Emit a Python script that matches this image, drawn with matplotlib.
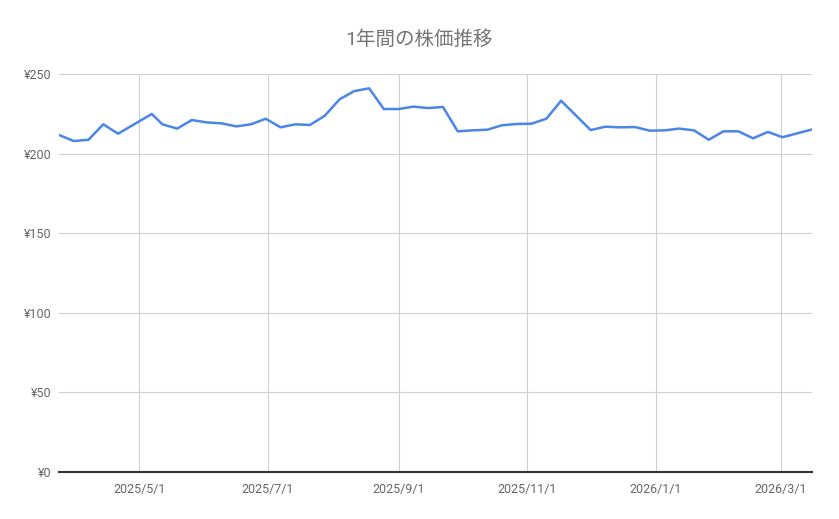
import pandas as pd
import matplotlib.pyplot as plt
import matplotlib.dates as mdates
from matplotlib.ticker import FuncFormatter

plt.rcParams['font.family'] = ['Roboto', 'Noto Sans CJK JP', 'DejaVu Sans']

dates = pd.to_datetime([
    '2025-03-24', '2025-03-31', '2025-04-07', '2025-04-14', '2025-04-21',
    '2025-05-07', '2025-05-12', '2025-05-19', '2025-05-26', '2025-06-02',
    '2025-06-09', '2025-06-16', '2025-06-23', '2025-06-30', '2025-07-07',
    '2025-07-14', '2025-07-21', '2025-07-28', '2025-08-04', '2025-08-11',
    '2025-08-18', '2025-08-25', '2025-09-01', '2025-09-08', '2025-09-15',
    '2025-09-22', '2025-09-29', '2025-10-06', '2025-10-13', '2025-10-20',
    '2025-10-27', '2025-11-03', '2025-11-10', '2025-11-17', '2025-12-01',
    '2025-12-08', '2025-12-15', '2025-12-22', '2025-12-29', '2026-01-05',
    '2026-01-12', '2026-01-19', '2026-01-26', '2026-02-02', '2026-02-09',
    '2026-02-16', '2026-02-23', '2026-03-02', '2026-03-16',
])
prices = [
    211.7, 207.9, 208.7, 218.4, 212.5,
    224.9, 218.4, 215.7, 221.1, 219.6,
    219.0, 217.1, 218.4, 221.9, 216.5,
    218.4, 218.0, 223.8, 234.1, 239.3,
    241.0, 228.0, 228.0, 229.5, 228.6,
    229.3, 214.0, 214.6, 215.0, 217.8,
    218.6, 218.8, 221.9, 233.2, 214.8,
    216.9, 216.5, 216.7, 214.4, 214.6,
    215.7, 214.6, 208.7, 214.0, 214.0,
    209.6, 213.6, 210.3, 215.2,
]
yticks = [0, 50, 100, 150, 200, 250]
xticks = pd.to_datetime(['2025-05-01', '2025-07-01', '2025-09-01',
                         '2025-11-01', '2026-01-01', '2026-03-01'])

fig = plt.figure(figsize=(8.39, 5.19), dpi=100)
ax = fig.add_axes([0.0703, 0.0906, 0.8977, 0.7668])

ax.plot(dates, prices, color='#4a86e8', linewidth=1.8, zorder=3)

ax.set_xlim(dates[0], dates[-1])
ax.set_ylim(0, 250)
ax.set_yticks(yticks)
ax.yaxis.set_major_formatter(FuncFormatter(lambda v, p: f'¥{v:.0f}'))
ax.set_xticks(xticks)
ax.xaxis.set_major_formatter(FuncFormatter(
    lambda v, p: '{0.year}/{0.month}/{0.day}'.format(mdates.num2date(v))))

ax.grid(True, color='#d0d0d0', linewidth=0.8)
ax.set_axisbelow(True)
for s in ['top', 'right', 'left']:
    ax.spines[s].set_visible(False)
ax.spines['bottom'].set_color('#333333')
ax.spines['bottom'].set_linewidth(1.5)
ax.spines['bottom'].set_zorder(4)
ax.tick_params(axis='both', length=0, labelsize=9, labelcolor='#666666')
ax.tick_params(axis='x', pad=8)
ax.tick_params(axis='y', pad=5)

fig.text(0.5, 0.923, '1年間の株価推移', ha='center', va='center',
         fontsize=14, color='#757575')

fig.savefig('out.png', dpi=100, facecolor='white')
